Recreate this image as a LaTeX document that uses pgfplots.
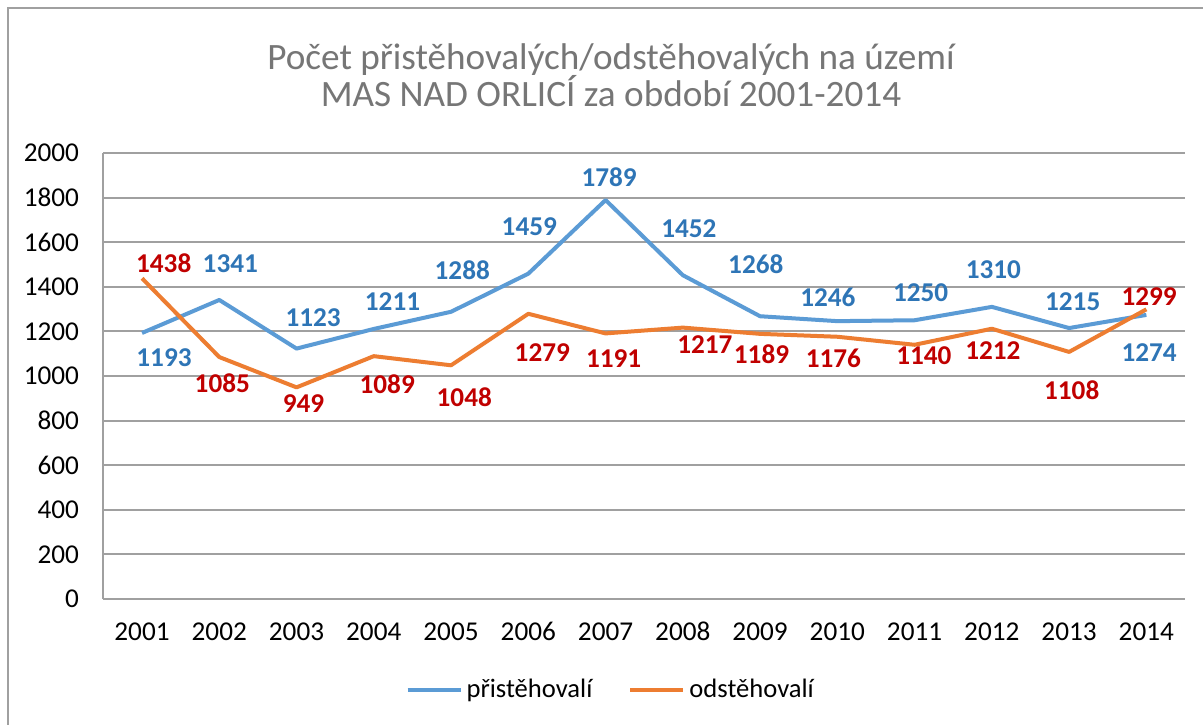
\documentclass[border=0pt]{standalone}
\usepackage{fontspec}
\setmainfont{Carlito}
\usepackage{pgfplots}
\pgfplotsset{compat=1.18}
\usepackage{pgfplotstable}
\definecolor{blueL}{HTML}{5B9BD5}
\definecolor{orangeL}{HTML}{ED7D31}
\definecolor{blueT}{HTML}{2E75B6}
\definecolor{redT}{HTML}{C00000}
\definecolor{gridc}{HTML}{A0A0A0}
\definecolor{titlec}{HTML}{767676}

\pgfplotstableread{
x y dx dy
2001 1193 22 -24.3
2002 1341 11 36.7
2003 1123 16.6 31.3
2004 1211 18.7 27.3
2005 1288 11.2 41.1
2006 1459 1 46.6
2007 1789 3.5 23
2008 1452 6 47
2009 1268 -4.3 52
2010 1246 -9.5 23.8
2011 1250 6 28
2012 1310 1.5 37
2013 1215 3.6 26
2014 1274 2.7 -37.8
}\prist

\pgfplotstableread{
x y dx dy
2001 1438 21.7 15
2002 1085 3 -25.7
2003 949 7 -16.6
2004 1089 13.4 -28.5
2005 1048 13.2 -32
2006 1279 14 -38.5
2007 1191 8 -25
2008 1217 22 -17.4
2009 1189 1.4 -20
2010 1176 -4 -22
2011 1140 9.3 -11
2012 1212 1 -21.6
2013 1108 2.6 -38.7
2014 1299 2.7 12.3
}\odst

\begin{document}
\begin{tikzpicture}
\useasboundingbox (0,0) rectangle (601.5pt,362pt);
\clip (0,0) rectangle (601.5pt,362pt);
\fill[white] (0,0) rectangle (601.5pt,362pt);
\draw[gridc, line width=1pt] (4pt,-20pt) -- (4pt,358pt) -- (640pt,358pt);
\node[anchor=base, text=titlec, font=\fontsize{18.6}{22}\selectfont, inner sep=0pt] at (305.5pt,327pt) {Počet přistěhovalých/odstěhovalých na území};
\node[anchor=base, text=titlec, font=\fontsize{18.6}{22}\selectfont, inner sep=0pt] at (305.5pt,308.5pt) {MAS NAD ORLICÍ za období 2001-2014};
\begin{axis}[
  at={(51.7pt,62.5pt)}, anchor=south west,
  scale only axis, width=540.8pt, height=223pt,
  xmin=2000.5, xmax=2014.5, ymin=0, ymax=2000,
  xtick={2001,2002,...,2014}, ytick={0,200,...,2000},
  ymajorgrids, grid style={gridc, line width=1pt},
  axis x line*=bottom, axis y line*=left,
  axis line style={gridc, line width=1pt, -},
  major tick length=0pt,
  /pgf/number format/1000 sep={},
  tick label style={font=\fontsize{13.6}{16}\selectfont, /pgf/number format/assume math mode=true, text=black},
  yticklabel style={anchor=east, inner sep=0pt, xshift=-12pt},
  xticklabel style={anchor=north, inner sep=0pt, yshift=-11.5pt},
  clip=false,
  legend style={at={(0.47,-0.204)}, anchor=center, draw=none, fill=none,
    legend columns=2, font=\fontsize{13.3}{16}\selectfont,
    /tikz/every even column/.append style={column sep=16pt}},
  legend image code/.code={\draw[#1] (0pt,0pt) -- (26.5pt,0pt);},
]
\addplot[blueL, line width=2pt, line join=round] table[x=x,y=y]{\prist};
\addlegendentry{přistěhovalí}
\addplot[orangeL, line width=2pt, line join=round] table[x=x,y=y]{\odst};
\addlegendentry{odstěhovalí}
\addplot[draw=none, forget plot, nodes near coords, point meta=explicit symbolic,
  visualization depends on={\thisrow{dx}\as\dx},
  visualization depends on={\thisrow{dy}\as\dy},
  nodes near coords style={anchor=center, inner sep=0pt, xshift={0.5pt*(\dx)}, yshift={0.5pt*(\dy)},
    font=\bfseries\fontsize{13.6}{16}\selectfont, text=blueT}]
  table[x=x,y=y,meta=y]{\prist};
\addplot[draw=none, forget plot, nodes near coords, point meta=explicit symbolic,
  visualization depends on={\thisrow{dx}\as\dx},
  visualization depends on={\thisrow{dy}\as\dy},
  nodes near coords style={anchor=center, inner sep=0pt, xshift={0.5pt*(\dx)}, yshift={0.5pt*(\dy)},
    font=\bfseries\fontsize{13.6}{16}\selectfont, text=redT}]
  table[x=x,y=y,meta=y]{\odst};
\end{axis}
\end{tikzpicture}
\end{document}
